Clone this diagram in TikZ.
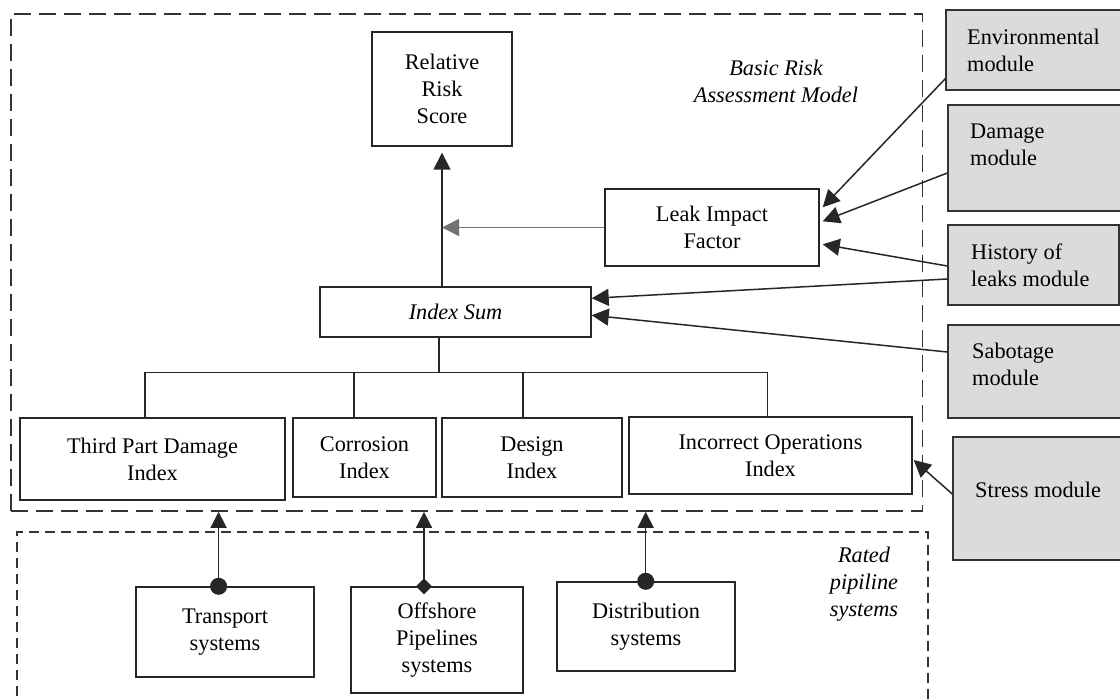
\documentclass[tikz,border=0pt]{standalone}
\usepackage{fontspec}
\setmainfont{Liberation Serif}
\usetikzlibrary{arrows.meta,calc}
\newcommand\dfont{\fontsize{22.3}{27}\selectfont}
\begin{document}
\begin{tikzpicture}[x=1pt,y=-1pt,
  box/.style={draw=black!85, line width=1.4pt, rectangle, inner sep=0pt, align=center, font=\dfont},
  modbox/.style={draw=black!80, line width=1.4pt, fill=black!14, rectangle, inner sep=0pt},
  modtext/.style={inner sep=0pt, align=left, font=\dfont, anchor=west},
  lbl/.style={inner sep=0pt, align=center, font=\dfont\itshape},
  dashA/.style={draw=black!80, line width=1.7pt, dash pattern=on 17pt off 8pt, inner sep=0pt},
  dashB/.style={draw=black!80, line width=1.7pt, dash pattern=on 10pt off 6pt, inner sep=0pt},
  conn/.style={draw=black!85, line width=1.5pt},
  arr/.style={conn, -{Triangle[width=17pt,length=17pt]}},
]
\useasboundingbox (0,0) rectangle (1120,700);
\clip (0,0) rectangle (1120,700);

% dashed frames
\node[dashA, minimum width=911.5pt, minimum height=497pt] (bram) at (466.75,262.5) {};
\node[dashB, minimum width=911pt, minimum height=200pt] (rps) at (472.5,632) {};
\node[lbl] (bramlbl) at (776,81.5) {Basic Risk\\Assessment Model};
\node[lbl] (rpslbl) at (864,584.5) {Rated\\pipiline\\systems};

% main boxes
\node[box, minimum width=140pt, minimum height=114pt] (rrs) at (442,89) {Relative\\Risk\\Score};
\node[box, minimum width=214pt, minimum height=77pt] (leak) at (712,227.5) {Leak Impact\\Factor};
\node[box, minimum width=271pt, minimum height=50pt, font=\dfont\itshape] (isum) at (455.5,312) {Index Sum};
\node[box, minimum width=265pt, minimum height=82pt] (tpd) at (152.5,459) {Third Part Damage\\Index};
\node[box, minimum width=143pt, minimum height=79pt] (cor) at (364.5,457.5) {Corrosion\\Index};
\node[box, minimum width=180pt, minimum height=79pt] (des) at (532,457.5) {Design\\Index};
\node[box, minimum width=283pt, minimum height=77pt] (ioi) at (770.5,455.5) {Incorrect Operations\\Index};
\node[box, minimum width=178pt, minimum height=90pt] (trans) at (225,632) {Transport\\systems};
\node[box, minimum width=172pt, minimum height=106pt] (off) at (437,640) {Offshore\\Pipelines\\systems};
\node[box, minimum width=178pt, minimum height=89pt] (dist) at (646,626.5) {Distribution\\systems};

% grey modules
\node[modbox, minimum width=180pt, minimum height=80pt] (env) at (1036,50) {};
\node[modbox, minimum width=178pt, minimum height=106pt] (dam) at (1037,158) {};
\node[modbox, minimum width=171pt, minimum height=80pt] (hist) at (1033.5,265) {};
\node[modbox, minimum width=178pt, minimum height=93pt] (sab) at (1037,371.5) {};
\node[modbox, minimum width=173pt, minimum height=123pt] (stress) at (1039.5,498.5) {};
\node[modtext] (envt) at (967,50) {Environmental\\module};
\node[modtext] (damt) at (970,144.5) {Damage\\module};
\node[modtext] (histt) at (971,265) {History of\\leaks module};
\node[modtext] (sabt) at (972,364.5) {Sabotage\\module};
\node[modtext] (stresst) at (975,490) {Stress module};

% index sum -> relative risk score
\coordinate (up0) at (isum.north -| rrs.south);
\draw[arr] (up0) -- ($(rrs.south)+(0,6)$);
\draw[arr, draw=black!55] (leak.west) -- (leak.west -| rrs.south);

% tree below index sum
\coordinate (b0) at ($(isum.south)+(-16.5,0)$);
\coordinate (bus) at ($(b0)+(0,35)$);
\draw[conn] (b0) -- (bus);
\draw[conn] (tpd.north -| 145,0) |- (bus) -| (ioi.north -| 767.5,0);
\draw[conn] (cor.north -| 354,0) -- (bus -| 354,0);
\draw[conn] (des.north -| 523,0) -- (bus -| 523,0);

% module arrows
\draw[arr] ($(env.south west)+(0,-12)$) -- ($(leak.north east)+(3,19)$);
\draw[arr] ($(dam.west)+(0,15)$) -- ($(leak.north east)+(3,33)$);
\draw[arr] ($(hist.west)+(0,1)$) -- ($(leak.north east)+(3,56)$);
\draw[arr] ($(hist.west)+(0,14)$) -- ($(isum.north east)+(0,12)$);
\draw[arr] ($(sab.west)+(0,-19.5)$) -- ($(isum.north east)+(0,29)$);
\draw[arr] ($(stress.west)+(0,-4.5)$) -- ($(ioi.east)+(1,4.5)$);

% pipeline systems -> index boxes
\coordinate (t1) at ($(trans.north)+(-6.4,0)$);
\coordinate (t2) at ($(off.north)+(-13,0)$);
\coordinate (t3) at ($(dist.north)+(-0.3,0)$);
\draw[conn, {Circle[length=17pt]}-{Triangle[width=16pt,length=16pt]}, shorten <=-8.5pt] (t1) -- (t1 |- bram.south);
\draw[conn, {Diamond[length=16pt,width=16pt]}-{Triangle[width=16pt,length=16pt]}, shorten <=-8pt] (t2) -- (t2 |- bram.south);
\draw[conn, {Circle[length=17pt]}-{Triangle[width=16pt,length=16pt]}, shorten <=-8.5pt] (t3) -- (t3 |- bram.south);
\end{tikzpicture}
\end{document}
